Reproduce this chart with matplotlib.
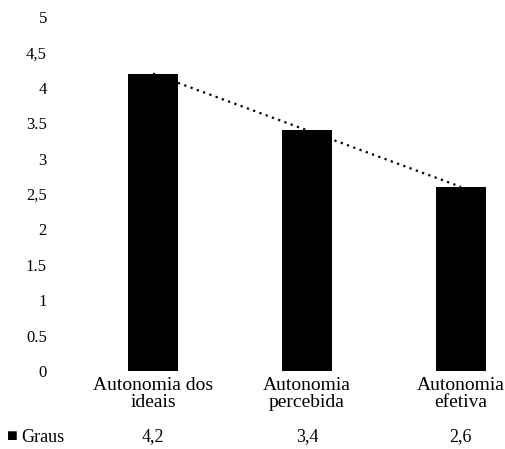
import matplotlib
matplotlib.use("Agg")
import matplotlib.pyplot as plt
import matplotlib.transforms as mtransforms

# dados
categorias = ["Autonomia dos\nideais", "Autonomia\npercebida", "Autonomia\nefetiva"]
graus = [4.2, 3.4, 2.6]
rotulos_graus = ["4,2", "3,4", "2,6"]
yticks = [0, 0.5, 1, 1.5, 2, 2.5, 3, 3.5, 4, 4.5, 5]
ytick_labels = ["0", "0.5", "1", "1.5", "2", "2,5", "3", "3.5", "4", "4,5", "5"]

plt.rcParams["font.family"] = ["Liberation Serif", "DejaVu Serif"]

fig = plt.figure(figsize=(5.05, 4.49), dpi=100)
W, H = 505, 449
ax = fig.add_axes([76 / W, 78 / H, (W - 76) / W, 354 / H])

x = [1, 2, 3]
#linha de tendencia pontilhada
ax.plot(x, graus, linestyle=(0, (1, 2)), color="black", linewidth=1.6, zorder=1)
ax.bar(x, graus, width=0.32, color="black", zorder=2)

ax.set_xlim(0.5, 0.5 + (W - 76) / 154)
ax.set_ylim(0, 5)
ax.set_yticks(yticks)
ax.set_yticklabels(ytick_labels, fontsize=12)
ax.set_xticks(x)
ax.set_xticklabels(categorias, fontsize=14, linespacing=1.05)
ax.tick_params(axis="y", length=0, pad=21)
ax.tick_params(axis="x", length=0, pad=4)
for s in ax.spines.values():
    s.set_visible(False)

# linha da tabela de dados
trans = mtransforms.blended_transform_factory(ax.transData, fig.transFigure)
for xi, r in zip(x, rotulos_graus):
    ax.text(xi, 1 - 437 / H, r, transform=trans, ha="center", va="center", fontsize=13)
fig.text(7 / W, 1 - 437 / H, "\u25A0", ha="left", va="center", fontsize=13)
fig.text(21 / W, 1 - 437 / H, "Graus", ha="left", va="center", fontsize=13)

fig.savefig("out.png", dpi=100)
